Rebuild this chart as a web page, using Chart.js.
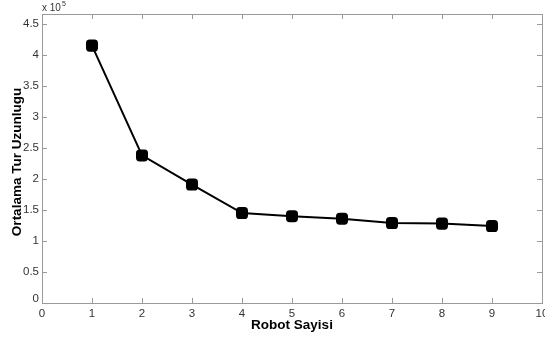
<!DOCTYPE html>
<html>
<head>
<meta charset="utf-8">
<script src="https://cdn.jsdelivr.net/npm/chart.js@4/dist/chart.umd.min.js"></script>
<style>
  html, body { margin: 0; padding: 0; background: #fff; }
  #wrap { width: 545px; height: 342px; }
</style>
</head>
<body>
<div id="wrap"><canvas id="turChart"></canvas></div>
<script>
const robotCount = [1, 2, 3, 4, 5, 6, 7, 8, 9]
const tourLength = [4.15, 2.38, 1.91, 1.45, 1.40, 1.36, 1.29, 1.28, 1.24] // x 10^5
const xTicks = [0, 1, 2, 3, 4, 5, 6, 7, 8, 9, 10]
const yTicks = [0, 0.5, 1, 1.5, 2, 2.5, 3, 3.5, 4, 4.5]
const yTickLabels = ["0", "0.5", "1", "1.5", "2", "2.5", "3", "3.5", "4", "4.5"]

const axisColor = "#9a9a9a"
const textColor = "#333"

// matlab style box, inward ticks and labels
const matlabAxes = {
  id: "matlabAxes",
  afterDraw(chart) {
    const ctx = chart.ctx
    const a = chart.chartArea
    const xs = chart.scales.x
    const ys = chart.scales.y
    ctx.save()
    ctx.strokeStyle = axisColor
    ctx.lineWidth = 1
    ctx.strokeRect(a.left + 0.5, a.top + 0.5, a.right - a.left, a.bottom - a.top)

    ctx.beginPath()
    xTicks.forEach((v) => {
      const px = Math.round(xs.getPixelForValue(v)) + 0.5
      ctx.moveTo(px, a.bottom); ctx.lineTo(px, a.bottom - 5)
      ctx.moveTo(px, a.top); ctx.lineTo(px, a.top + 5)
    })
    yTicks.forEach((v) => {
      const py = Math.round(ys.getPixelForValue(v)) + 0.5
      ctx.moveTo(a.left, py); ctx.lineTo(a.left + 5, py)
      ctx.moveTo(a.right, py); ctx.lineTo(a.right - 5, py)
    })
    ctx.stroke()

    ctx.fillStyle = textColor
    ctx.font = "11.5px 'Liberation Sans', Arial, sans-serif"
    ctx.textAlign = "center"
    ctx.textBaseline = "top"
    xTicks.forEach((v) => {
      ctx.fillText(String(v), xs.getPixelForValue(v), a.bottom + 5)
    })
    ctx.textAlign = "right"
    ctx.textBaseline = "middle"
    yTicks.forEach((v, i) => {
      let py = ys.getPixelForValue(v)
      if (v === 0) py -= 4
      ctx.fillText(yTickLabels[i], a.left - 3, py)
    })

    // exponent
    ctx.font = "10px 'Liberation Sans', Arial, sans-serif"
    ctx.textAlign = "left"
    ctx.textBaseline = "alphabetic"
    ctx.fillText("x 10", a.left, a.top - 3)
    const w = ctx.measureText("x 10").width
    ctx.font = "7px 'Liberation Sans', Arial, sans-serif"
    ctx.fillText("5", a.left + w + 1, a.top - 8)

    // titles
    ctx.fillStyle = "#000"
    ctx.font = "bold 13.5px 'Liberation Sans', Arial, sans-serif"
    ctx.textAlign = "center"
    ctx.textBaseline = "middle"
    ctx.fillText("Robot Sayisi", (a.left + a.right) / 2, 325)
    ctx.translate(17, 162)
    ctx.rotate(-Math.PI / 2)
    ctx.fillText("Ortalama Tur Uzunlugu", 0, 0)
    ctx.restore()
  },
}

function initTurChart() {
  const ctx = document.getElementById("turChart").getContext("2d")
  new Chart(ctx, {
    type: "line",
    data: {
      labels: robotCount,
      datasets: [
        {
          data: robotCount.map((r, i) => ({ x: r, y: tourLength[i] })),
          borderColor: "#000",
          backgroundColor: "#000",
          borderWidth: 2,
          pointStyle: "rectRounded",
          pointRadius: 7,
          pointHoverRadius: 7,
          pointBorderWidth: 0,
          tension: 0,
          clip: false,
        },
      ],
    },
    options: {
      responsive: true,
      maintainAspectRatio: false,
      animation: false,
      layout: { autoPadding: false, padding: { left: 42, right: 3, top: 14, bottom: 39 } },
      plugins: { legend: { display: false }, tooltip: { enabled: false } },
      scales: {
        x: { type: "linear", min: 0, max: 10, display: false },
        y: { type: "linear", min: 0, max: 4.66, display: false },
      },
    },
    plugins: [matlabAxes],
  })
}

initTurChart()
</script>
</body>
</html>
